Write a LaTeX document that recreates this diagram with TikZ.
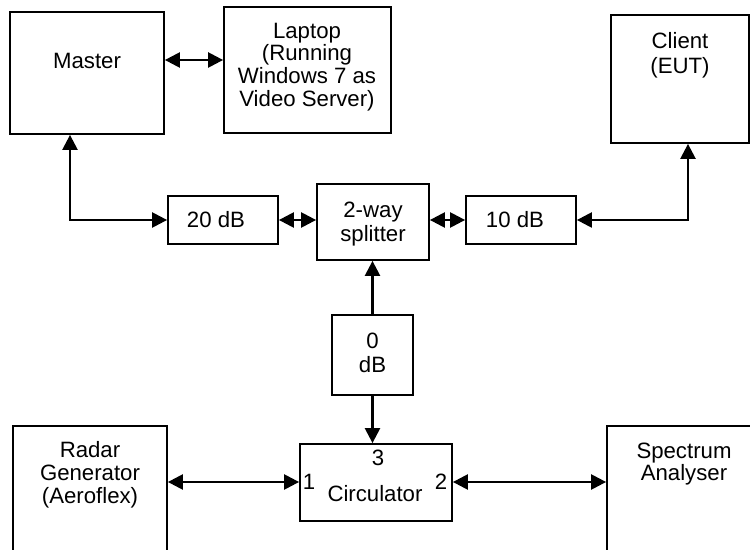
\documentclass[tikz,border=0pt]{standalone}
\usepackage{fontspec}
\setmainfont{Liberation Sans}
\usetikzlibrary{arrows.meta}
\begin{document}
\begin{tikzpicture}[x=0.5pt,y=-0.5pt,
  box/.style={draw, line width=0.9pt, inner sep=0pt, rectangle},
  txt/.style={inner sep=0pt, align=center, font=\fontsize{11.1}{11.4}\selectfont},
  tip/.tip={Triangle[length=7.5pt,width=7.5pt]},
  conn/.style={line width=1.2pt, -tip},
  bconn/.style={line width=1.2pt, tip-tip}]
\useasboundingbox (0,0) rectangle (750,550);
\fill[white] (0,0) rectangle (750,550);
% boxes
\node[box, minimum width=77pt, minimum height=61pt] (master) at (87,73) {};
\node[box, minimum width=83.5pt, minimum height=63pt] (laptop) at (307.5,70) {};
\node[box, minimum width=69pt, minimum height=64pt] (client) at (680,79) {};
\node[box, minimum width=55pt, minimum height=24pt] (db20) at (223,220) {};
\node[box, minimum width=56pt, minimum height=38pt] (split) at (373,222) {};
\node[box, minimum width=55pt, minimum height=24pt] (db10) at (521,220) {};
\node[box, minimum width=40.5pt, minimum height=40pt] (db0) at (372.5,355) {};
\node[box, minimum width=76pt, minimum height=38.5pt] (circ) at (376,482.5) {};
\begin{scope}
\clip (0,0) rectangle (750,550);
\node[box, minimum width=77pt, minimum height=87pt] (radar) at (90,513) {};
\node[box, minimum width=77pt, minimum height=87pt] (spec) at (684,513) {};
\end{scope}
% texts
\node[txt] (masterT) at (87,61) {Master};
\node[txt] (laptopT) at (307,67) {Laptop\\(Running\\Windows 7 as\\Video Server)};
\node[txt, font=\fontsize{11.1}{12.5}\selectfont] (clientT) at (680,55) {Client\\(EUT)};
\node[txt] (db20T) at (216,220) {20 dB};
\node[txt, font=\fontsize{11.1}{12.3}\selectfont] (splitT) at (373,224) {2-way\\splitter};
\node[txt] (db10T) at (515,220) {10 dB};
\node[txt, font=\fontsize{11.1}{12}\selectfont] (db0T) at (372.5,352.5) {0\\dB};
\node[txt] (p3) at (378,458) {3};
\node[txt] (p1) at (309,482) {1};
\node[txt] (p2) at (441,482) {2};
\node[txt] (circT) at (375,493.5) {Circulator};
\node[txt] (radarT) at (90,475) {Radar\\Generator\\(Aeroflex)};
\node[txt] (specT) at (684,464) {Spectrum\\Analyser};
% connectors
\draw[bconn] (master.east |- 0,60) -- (laptop.west |- 0,60);
\draw[bconn] (master.south -| 70,0) |- (db20.west);
\draw[bconn] (db20.east) -- (split.west |- db20.east);
\draw[bconn] (split.east |- db10.west) -- (db10.west);
\draw[bconn] (db10.east) -| (client.south -| 688,0);
\draw[conn] (db0.north) -- (db0.north |- split.south);
\draw[conn] (db0.south) -- (db0.south |- circ.north);
\draw[bconn] (radar.east |- 0,482) -- (circ.west |- 0,482);
\draw[bconn] (circ.east |- 0,482) -- (spec.west |- 0,482);
\end{tikzpicture}
\end{document}
